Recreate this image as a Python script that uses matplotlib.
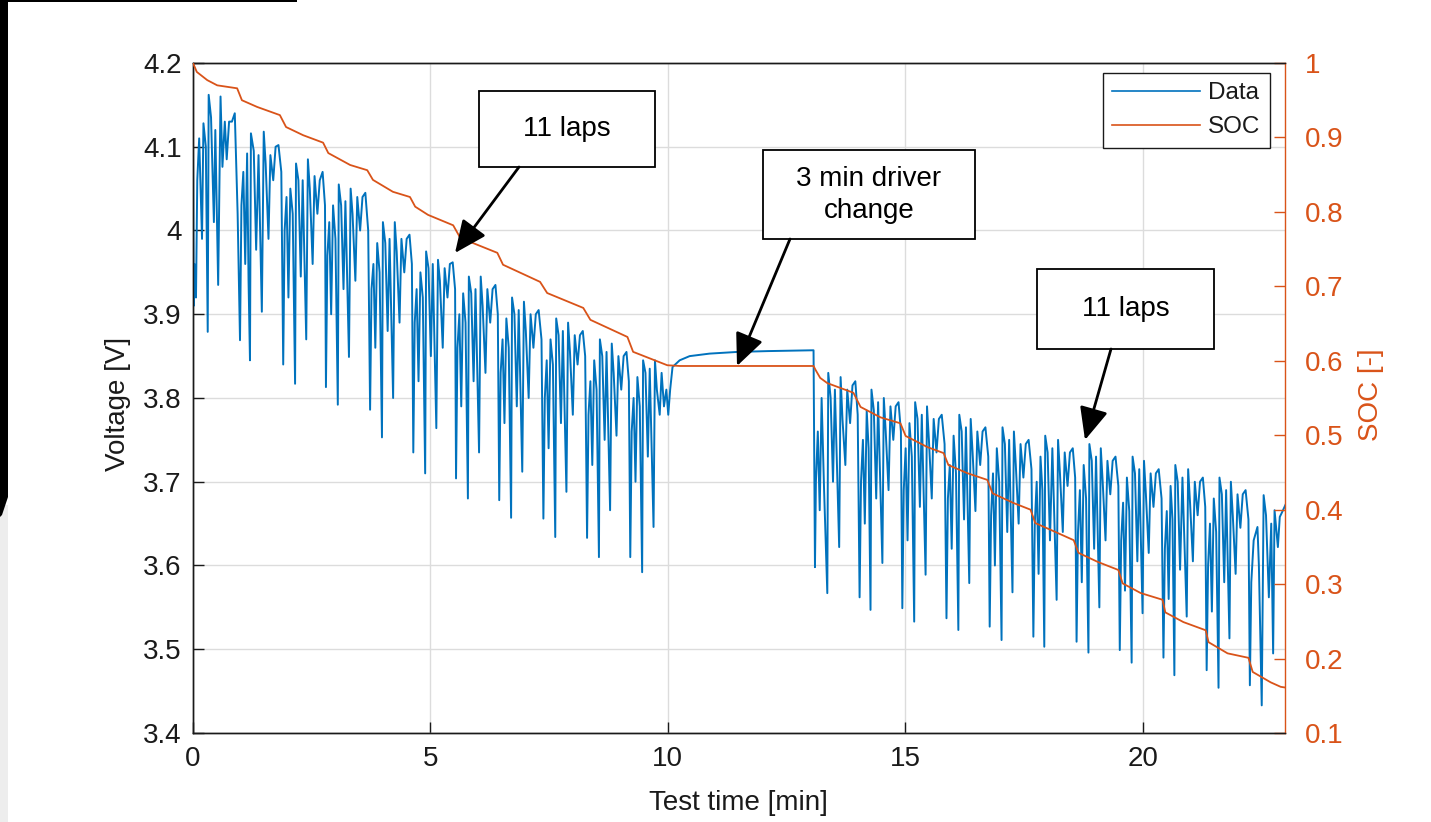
import matplotlib
matplotlib.use('Agg')
import matplotlib.pyplot as plt
from matplotlib.patches import Rectangle, FancyArrowPatch, Polygon

plt.rcParams['font.family'] = ['Liberation Sans', 'DejaVu Sans']

# ---------------- data ----------------
# first stint: 11 laps, time [min], voltage [V]
stint1_time = [
    0.00, 0.015, 0.03, 0.045,
    0.063, 0.09, 0.13, 0.19, 0.22, 0.27, 0.31, 0.33, 0.38, 0.44, 0.47, 0.53, 0.58, 0.62, 0.67, 0.71, 0.76, 0.82, 0.88, 0.94,
    0.99, 1.02, 1.06, 1.10, 1.14, 1.17, 1.20, 1.22, 1.28, 1.33, 1.38, 1.45, 1.49, 1.53, 1.59, 1.63, 1.69, 1.74, 1.80, 1.86,
    1.90, 1.93, 1.97, 2.01, 2.05, 2.10, 2.15, 2.17, 2.22, 2.27, 2.31, 2.385, 2.42, 2.46, 2.52, 2.56, 2.62, 2.67, 2.73, 2.78,
    2.80, 2.83, 2.87, 2.91, 2.95, 3.00, 3.05, 3.07, 3.12, 3.17, 3.21, 3.285, 3.32, 3.36, 3.42, 3.46, 3.52, 3.57, 3.63, 3.69,
    3.73, 3.76, 3.80, 3.84, 3.88, 3.93, 3.98, 4.00, 4.05, 4.10, 4.14, 4.215, 4.25, 4.29, 4.35, 4.39, 4.45, 4.50, 4.56, 4.61,
    4.64, 4.67, 4.71, 4.75, 4.79, 4.84, 4.89, 4.91, 4.96, 5.01, 5.05, 5.125, 5.16, 5.20, 5.26, 5.30, 5.36, 5.41, 5.47, 5.52,
    5.54, 5.57, 5.61, 5.65, 5.69, 5.74, 5.79, 5.81, 5.86, 5.91, 5.95, 6.025, 6.06, 6.10, 6.16, 6.20, 6.26, 6.31, 6.37, 6.42,
    6.45, 6.48, 6.52, 6.56, 6.60, 6.65, 6.70, 6.72, 6.77, 6.82, 6.86, 6.935, 6.97, 7.01, 7.07, 7.11, 7.17, 7.22, 7.28, 7.34,
    7.38, 7.41, 7.45, 7.49, 7.53, 7.58, 7.63, 7.65, 7.70, 7.75, 7.79, 7.865, 7.90, 7.94, 8.00, 8.04, 8.10, 8.15, 8.21, 8.26,
    8.30, 8.33, 8.37, 8.41, 8.45, 8.50, 8.55, 8.57, 8.62, 8.67, 8.71, 8.785, 8.82, 8.86, 8.92, 8.96, 9.02, 9.07, 9.13, 9.18,
    9.21, 9.24, 9.28, 9.32, 9.36, 9.41, 9.46, 9.48, 9.53, 9.58, 9.62, 9.70, 9.73, 9.77, 9.83, 9.87, 9.92, 9.97, 10.01, 10.05,
]
stint1_volt = [
    4.10, 3.91, 3.96, 3.93,
    3.92, 4.06, 4.11, 3.99, 4.128, 4.10, 3.879, 4.162, 4.135, 4.01, 4.12, 3.935, 4.16, 4.076, 4.13, 4.085, 4.13, 4.13, 4.14, 4.02,
    3.869, 4.03, 4.07, 3.96, 4.092, 3.94, 3.845, 4.116, 4.095, 3.977, 4.09, 3.903, 4.118, 4.08, 3.99, 4.09, 4.06, 4.10, 4.102, 4.07,
    3.84, 4.00, 4.04, 3.92, 4.05, 4.02, 3.817, 4.08, 4.06, 3.945, 4.06, 3.87, 4.085, 4.05, 3.96, 4.065, 4.02, 4.06, 4.07, 4.03,
    3.813, 3.97, 4.01, 3.90, 4.03, 3.99, 3.792, 4.055, 4.03, 3.93, 4.035, 3.849, 4.05, 4.02, 3.94, 4.04, 4.00, 4.04, 4.045, 4.00,
    3.786, 3.93, 3.96, 3.86, 3.985, 3.95, 3.753, 4.01, 3.985, 3.88, 3.99, 3.80, 4.01, 3.975, 3.89, 3.99, 3.95, 3.99, 3.995, 3.96,
    3.735, 3.89, 3.93, 3.82, 3.95, 3.92, 3.71, 3.975, 3.955, 3.85, 3.96, 3.764, 3.965, 3.94, 3.86, 3.955, 3.92, 3.96, 3.962, 3.93,
    3.704, 3.86, 3.90, 3.79, 3.925, 3.89, 3.68, 3.945, 3.925, 3.82, 3.93, 3.735, 3.945, 3.91, 3.83, 3.93, 3.89, 3.93, 3.935, 3.90,
    3.678, 3.83, 3.87, 3.77, 3.895, 3.86, 3.657, 3.92, 3.90, 3.79, 3.905, 3.712, 3.915, 3.88, 3.80, 3.90, 3.86, 3.90, 3.905, 3.87,
    3.656, 3.80, 3.845, 3.74, 3.87, 3.84, 3.634, 3.895, 3.875, 3.77, 3.88, 3.688, 3.89, 3.855, 3.78, 3.875, 3.84, 3.875, 3.88, 3.85,
    3.633, 3.78, 3.82, 3.72, 3.845, 3.81, 3.61, 3.87, 3.85, 3.75, 3.855, 3.666, 3.865, 3.83, 3.755, 3.85, 3.81, 3.85, 3.855, 3.82,
    3.61, 3.76, 3.80, 3.70, 3.825, 3.79, 3.592, 3.845, 3.83, 3.73, 3.835, 3.646, 3.845, 3.81, 3.78, 3.83, 3.79, 3.81, 3.78, 3.81,
]

# 3 min driver change (rest)
rest_time = [10.10, 10.25, 10.46, 10.88, 11.46, 12.10, 13.07]
rest_volt = [3.837, 3.845, 3.850, 3.853, 3.855, 3.856, 3.857]

# second stint: 11 laps
stint2_time = [
    13.10, 13.12, 13.16, 13.20, 13.24, 13.29, 13.36, 13.38, 13.43, 13.48, 13.52, 13.61, 13.64, 13.68, 13.74, 13.78, 13.84, 13.89, 13.95, 14.00,
    14.04, 14.07, 14.11, 14.15, 14.19, 14.23, 14.27, 14.29, 14.34, 14.39, 14.43, 14.52, 14.55, 14.59, 14.65, 14.69, 14.75, 14.80, 14.86, 14.91,
    14.94, 14.97, 15.01, 15.05, 15.09, 15.14, 15.19, 15.21, 15.26, 15.31, 15.35, 15.43, 15.46, 15.50, 15.56, 15.60, 15.66, 15.71, 15.77, 15.83,
    15.87, 15.90, 15.94, 15.98, 16.02, 16.07, 16.12, 16.14, 16.19, 16.24, 16.28, 16.35, 16.38, 16.42, 16.48, 16.52, 16.58, 16.63, 16.69, 16.75,
    16.78, 16.81, 16.85, 16.89, 16.93, 16.98, 17.03, 17.05, 17.10, 17.15, 17.19, 17.26, 17.29, 17.33, 17.39, 17.43, 17.49, 17.54, 17.60, 17.66,
    17.70, 17.73, 17.77, 17.81, 17.85, 17.89, 17.93, 17.95, 18.00, 18.05, 18.10, 18.19, 18.22, 18.26, 18.32, 18.36, 18.42, 18.47, 18.53, 18.58,
    18.61, 18.64, 18.68, 18.72, 18.76, 18.81, 18.86, 18.88, 18.93, 18.98, 19.02, 19.09, 19.12, 19.16, 19.22, 19.26, 19.32, 19.37, 19.43, 19.49,
    19.52, 19.55, 19.59, 19.63, 19.67, 19.72, 19.77, 19.79, 19.84, 19.89, 19.93, 20.00, 20.03, 20.07, 20.13, 20.17, 20.23, 20.28, 20.34, 20.40,
    20.44, 20.47, 20.51, 20.55, 20.59, 20.63, 20.67, 20.69, 20.74, 20.79, 20.84, 20.93, 20.96, 21.00, 21.06, 21.10, 21.16, 21.21, 21.27, 21.32,
    21.35, 21.38, 21.42, 21.46, 21.50, 21.55, 21.60, 21.62, 21.67, 21.72, 21.76, 21.83, 21.86, 21.90, 21.96, 22.00, 22.06, 22.11, 22.17, 22.23,
    22.26, 22.29, 22.34, 22.42, 22.45, 22.51, 22.55, 22.60, 22.66, 22.71, 22.75, 22.78, 22.85, 22.89, 22.95, 23.03, 23.10,
]
stint2_volt = [
    3.598, 3.70, 3.76, 3.666, 3.80, 3.694, 3.567, 3.83, 3.80, 3.70, 3.81, 3.622, 3.825, 3.774, 3.72, 3.81, 3.77, 3.815, 3.82, 3.78,
    3.562, 3.70, 3.75, 3.65, 3.785, 3.74, 3.547, 3.81, 3.785, 3.68, 3.795, 3.603, 3.80, 3.76, 3.69, 3.79, 3.75, 3.79, 3.795, 3.76,
    3.549, 3.69, 3.74, 3.63, 3.77, 3.73, 3.533, 3.795, 3.775, 3.67, 3.78, 3.589, 3.79, 3.75, 3.68, 3.775, 3.735, 3.775, 3.78, 3.745,
    3.537, 3.68, 3.72, 3.62, 3.755, 3.71, 3.523, 3.78, 3.76, 3.655, 3.765, 3.579, 3.775, 3.735, 3.665, 3.76, 3.72, 3.76, 3.765, 3.73,
    3.527, 3.66, 3.71, 3.60, 3.74, 3.70, 3.511, 3.765, 3.745, 3.64, 3.75, 3.568, 3.76, 3.72, 3.65, 3.745, 3.705, 3.745, 3.75, 3.715,
    3.515, 3.65, 3.70, 3.59, 3.73, 3.69, 3.503, 3.755, 3.735, 3.63, 3.74, 3.559, 3.75, 3.71, 3.64, 3.735, 3.695, 3.735, 3.74, 3.705,
    3.509, 3.64, 3.69, 3.58, 3.72, 3.68, 3.496, 3.745, 3.725, 3.62, 3.73, 3.55, 3.74, 3.70, 3.63, 3.725, 3.685, 3.725, 3.73, 3.695,
    3.499, 3.63, 3.675, 3.57, 3.705, 3.665, 3.484, 3.73, 3.71, 3.605, 3.715, 3.543, 3.725, 3.685, 3.615, 3.71, 3.67, 3.71, 3.715, 3.68,
    3.49, 3.62, 3.665, 3.56, 3.695, 3.655, 3.469, 3.72, 3.70, 3.595, 3.705, 3.539, 3.715, 3.675, 3.605, 3.70, 3.66, 3.70, 3.705, 3.67,
    3.475, 3.60, 3.65, 3.545, 3.68, 3.64, 3.454, 3.705, 3.685, 3.58, 3.69, 3.513, 3.70, 3.66, 3.59, 3.685, 3.645, 3.685, 3.69, 3.655,
    3.457, 3.58, 3.63, 3.646, 3.60, 3.433, 3.684, 3.66, 3.562, 3.65, 3.495, 3.666, 3.622, 3.658, 3.665, 3.675, 3.688,
]

# state of charge [-]
soc_time = [0.00, 0.08, 0.30, 0.51, 0.93, 1.03, 1.35, 1.83, 1.96, 2.32, 2.74, 2.85, 3.31, 3.67, 3.79,
            4.21, 4.57, 4.68, 4.95, 5.48, 5.63, 6.41, 6.53, 7.31, 7.46, 8.22, 8.37, 9.15, 9.27, 9.99,
            10.26, 13.07, 13.11, 13.21, 13.36, 13.91, 14.06, 14.48, 14.90, 15.01, 15.47, 15.81, 15.91,
            16.31, 16.73, 16.84, 17.28, 17.64, 17.74, 18.06, 18.55, 18.65, 19.05, 19.49, 19.58, 19.96,
            20.42, 20.48, 20.86, 21.33, 21.39, 21.79, 22.23, 22.32, 22.70, 22.91, 23.12]
soc_value = [1.000, 0.988, 0.977, 0.970, 0.966, 0.950, 0.941, 0.930, 0.914, 0.903, 0.893, 0.879, 0.863, 0.856, 0.843,
             0.827, 0.820, 0.807, 0.796, 0.782, 0.765, 0.745, 0.729, 0.706, 0.691, 0.671, 0.655, 0.632, 0.612, 0.594,
             0.593, 0.593, 0.588, 0.577, 0.570, 0.557, 0.538, 0.524, 0.516, 0.499, 0.484, 0.476, 0.460,
             0.449, 0.440, 0.422, 0.409, 0.400, 0.382, 0.373, 0.359, 0.342, 0.330, 0.319, 0.301, 0.288,
             0.279, 0.262, 0.249, 0.238, 0.222, 0.207, 0.201, 0.182, 0.168, 0.162, 0.160]

volt_ticks = [3.4, 3.5, 3.6, 3.7, 3.8, 3.9, 4.0, 4.1, 4.2]
volt_ticklabels = ['3.4', '3.5', '3.6', '3.7', '3.8', '3.9', '4', '4.1', '4.2']
soc_ticks = [0.1, 0.2, 0.3, 0.4, 0.5, 0.6, 0.7, 0.8, 0.9, 1.0]
soc_ticklabels = ['0.1', '0.2', '0.3', '0.4', '0.5', '0.6', '0.7', '0.8', '0.9', '1']
time_ticks = [0, 5, 10, 15, 20]

# ---------------- figure ----------------
W, H = 1431, 822
fig = plt.figure(figsize=(W / 100, H / 100), dpi=100)
fig.patch.set_facecolor('white')


def fx(x):
    return x / W


def fy(y):
    return 1 - y / H


BLUE = '#0072BD'
ORANGE = '#D95319'
INK = '#1A1A1A'
FS = 20

ax = fig.add_axes([fx(193), fy(733), fx(1285) - fx(193), fy(63) - fy(733)])
ax2 = ax.twinx()

time_all = stint1_time + rest_time + stint2_time
volt_all = stint1_volt + rest_volt + stint2_volt
l1, = ax.plot(time_all, volt_all, color=BLUE, lw=1.4, label='Data', zorder=3)
l2, = ax2.plot(soc_time, soc_value, color=ORANGE, lw=1.3, label='SOC', zorder=3)

ax.set_xlim(0, 23.0)
ax.set_ylim(3.4, 4.2)
ax2.set_ylim(0.1, 1.0)

ax.set_xticks(time_ticks)
ax.set_xticklabels([str(t) for t in time_ticks])
ax.set_yticks(volt_ticks)
ax.set_yticklabels(volt_ticklabels)
ax2.set_yticks(soc_ticks)
ax2.set_yticklabels(soc_ticklabels)

ax.grid(True, color='#DCDCDC', lw=1.0)
ax.set_axisbelow(True)

ax.tick_params(axis='both', direction='in', length=8, width=1.0, labelsize=FS,
               colors=INK, top=False, right=False)
ax.tick_params(axis='x', pad=9)
ax.tick_params(axis='y', pad=8)
ax2.tick_params(axis='y', direction='in', length=8, width=1.0, labelsize=FS,
                colors=ORANGE, pad=14)

for s in ['left', 'top', 'bottom']:
    ax.spines[s].set_color(INK)
    ax.spines[s].set_linewidth(1.0)
    ax2.spines[s].set_color(INK)
    ax2.spines[s].set_linewidth(1.0)
ax2.spines['right'].set_color(ORANGE)
ax2.spines['right'].set_linewidth(1.0)
ax.spines['right'].set_visible(False)

# axis labels
fig.text(fx(118), fy(404), 'Voltage [V]', rotation=90, ha='center', va='center',
         fontsize=FS, color=INK)
fig.text(fx(1371), fy(395), 'SOC [-]', rotation=90, ha='center', va='center',
         fontsize=FS, color=ORANGE)
fig.text(fx(738), fy(803), 'Test time [min]', ha='center', va='center',
         fontsize=FS, color=INK)

# legend
leg = ax2.legend([l1, l2], ['Data', 'SOC'], loc='upper right',
                 bbox_to_anchor=(1 - 15 / 1092, 1 - 10 / 670), borderaxespad=0,
                 fontsize=17.5, frameon=True, fancybox=False, framealpha=1,
                 edgecolor=INK, handlelength=3.6, handletextpad=0.35,
                 labelspacing=0.5, borderpad=0.38)
leg.get_frame().set_linewidth(1.0)
for line in leg.get_lines():
    line.set_linewidth(1.2)
for t in leg.get_texts():
    t.set_color(INK)

# annotation boxes and arrows (figure pixel coordinates)
boxes = [
    ((479, 91, 655, 167), '11 laps'),
    ((763, 150, 975, 239), '3 min driver\nchange'),
    ((1037, 269, 1214, 349), '11 laps'),
]
for (x0, y0, x1, y1), txt in boxes:
    r = Rectangle((fx(x0), fy(y1)), fx(x1) - fx(x0), fy(y0) - fy(y1),
                  transform=fig.transFigure, facecolor='white', edgecolor='black',
                  lw=1.3, zorder=10)
    fig.add_artist(r)
    fig.text(fx((x0 + x1) / 2), fy((y0 + y1) / 2), txt, ha='center', va='center',
             fontsize=FS, color='black', linespacing=1.3, zorder=11)

arrows = [((519, 167), (455, 253)), ((790, 239), (737, 366)), ((1111, 349), (1085, 440))]
for (xa, ya), (xb, yb) in arrows:
    a = FancyArrowPatch((fx(xa), fy(ya)), (fx(xb), fy(yb)), transform=fig.transFigure,
                        arrowstyle='-|>,head_length=0.9,head_width=0.4',
                        mutation_scale=22, color='black', lw=2.0,
                        shrinkA=0, shrinkB=0, zorder=12)
    fig.add_artist(a)

# screenshot border artefacts
fig.add_artist(Rectangle((0, 0), fx(8), fy(505), transform=fig.transFigure,
                         facecolor='#EDEDED', edgecolor='none', zorder=0))
fig.add_artist(Polygon([(0, 1), (fx(8), 1), (fx(8), fy(497)), (fx(2), fy(515)), (0, fy(517))],
                       closed=True, transform=fig.transFigure, facecolor='black',
                       edgecolor='none', zorder=1))
fig.add_artist(Rectangle((0, fy(2)), fx(297), fy(0) - fy(2), transform=fig.transFigure,
                         facecolor='black', edgecolor='none', zorder=1))

fig.savefig('out.png', dpi=100, facecolor='white')
